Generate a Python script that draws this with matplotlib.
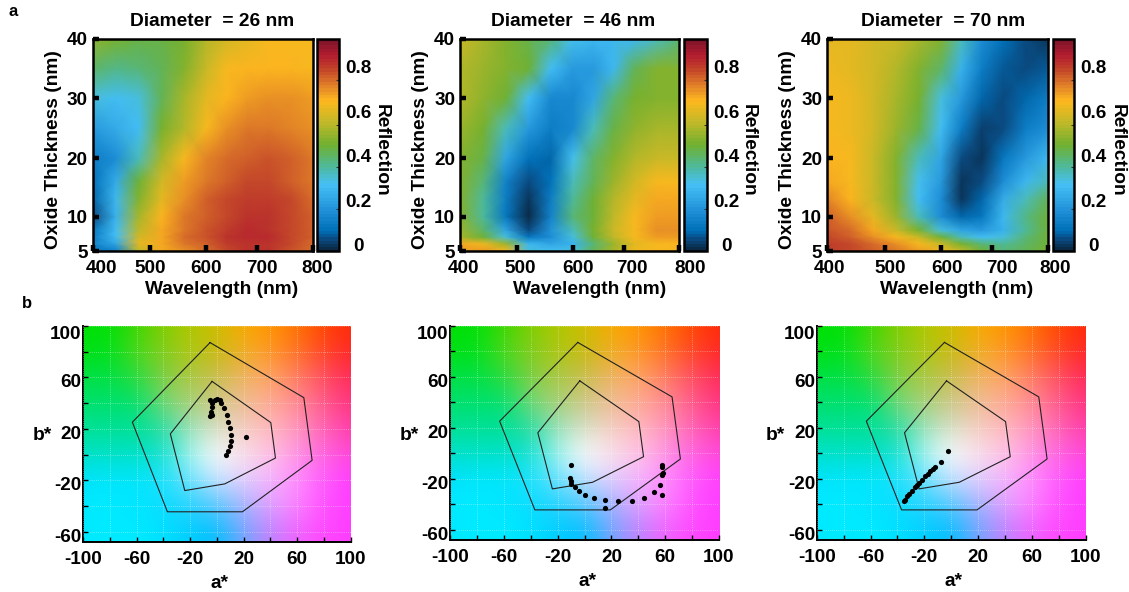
import numpy as np
import matplotlib
matplotlib.use("Agg")
import matplotlib.pyplot as plt
from matplotlib.colors import LinearSegmentedColormap
from matplotlib.transforms import ScaledTranslation

plt.rcParams['font.family'] = ['Liberation Sans', 'DejaVu Sans']
plt.rcParams['font.weight'] = 'bold'

W, H = 1129, 592

# ---------- data ----------
wavelengths = [400, 440, 480, 520, 560, 600, 640, 680, 720, 760, 800]
thickness = [5, 6, 7, 8, 10, 13, 16, 20, 25, 30, 35, 40]

refl_26 = [
    [.08, .12, .55, .66, .70, .74, .78, .81, .81, .77, .74],
    [.12, .20, .60, .67, .73, .76, .80, .82, .82, .78, .74],
    [.10, .27, .58, .67, .74, .77, .81, .83, .83, .79, .75],
    [.08, .27, .55, .66, .72, .77, .80, .83, .82, .79, .75],
    [.03, .24, .52, .65, .72, .76, .79, .81, .81, .79, .75],
    [.05, .25, .48, .60, .70, .75, .78, .80, .80, .78, .74],
    [.07, .22, .45, .58, .68, .73, .76, .78, .78, .76, .73],
    [.10, .15, .32, .52, .63, .71, .74, .76, .77, .75, .72],
    [.18, .22, .27, .46, .53, .63, .69, .72, .72, .71, .69],
    [.30, .27, .30, .42, .52, .60, .65, .68, .69, .69, .68],
    [.40, .37, .38, .42, .48, .56, .63, .65, .65, .65, .64],
    [.49, .46, .43, .43, .46, .53, .58, .61, .63, .63, .63],
]
refl_46 = [
    [.68, .68, .62, .30, .26, .30, .42, .52, .62, .64, .65],
    [.66, .62, .50, .25, .20, .24, .38, .50, .60, .64, .65],
    [.52, .45, .30, .08, .15, .30, .44, .55, .63, .68, .68],
    [.50, .40, .20, .03, .16, .33, .46, .57, .64, .69, .69],
    [.48, .35, .08, -.02, .12, .38, .45, .55, .63, .68, .68],
    [.47, .36, .10, -.01, .10, .36, .44, .53, .61, .66, .66],
    [.47, .38, .12, .02, .07, .33, .42, .50, .58, .63, .63],
    [.48, .43, .20, .07, .06, .28, .40, .48, .54, .57, .57],
    [.50, .46, .33, .17, .10, .13, .33, .43, .49, .52, .52],
    [.53, .49, .44, .27, .13, .13, .20, .38, .46, .48, .48],
    [.54, .50, .47, .44, .27, .17, .17, .25, .42, .47, .47],
    [.56, .52, .47, .43, .38, .28, .25, .25, .25, .32, .38],
]
refl_70 = [
    [.80, .79, .76, .72, .68, .62, .55, .45, .39, .42, .46],
    [.80, .78, .74, .70, .64, .56, .46, .38, .35, .40, .44],
    [.79, .76, .70, .63, .56, .44, .33, .27, .30, .38, .44],
    [.77, .74, .66, .56, .46, .30, .20, .17, .24, .36, .44],
    [.75, .69, .60, .50, .33, .15, .06, .08, .25, .37, .44],
    [.71, .65, .57, .47, .27, .15, -.01, .05, .22, .33, .42],
    [.67, .63, .57, .47, .28, .17, -.01, .02, .14, .25, .33],
    [.65, .63, .57, .48, .32, .20, .03, .00, .08, .17, .25],
    [.64, .62, .58, .50, .43, .26, .10, .01, .03, .10, .14],
    [.63, .62, .58, .52, .46, .30, .17, .05, .02, .05, .10],
    [.62, .61, .58, .54, .48, .40, .24, .10, .04, .02, .04],
    [.61, .60, .58, .56, .52, .47, .33, .14, .07, .02, .00],
]
titles = ["Diameter  = 26 nm", "Diameter  = 46 nm", "Diameter  = 70 nm"]

x_ticks = [400, 500, 600, 700, 800]
y_ticks = [5, 10, 20, 30, 40]
cbar_ticks = [0, .2, .4, .6, .8]
cbar_minor = [.16, .35, .54, .74]

outer_a = [-5, 65.1, 71.3, 19.2, -36.9, -63.1, -5]
outer_b = [87.1, 44.3, -4.5, -44.5, -44.5, 25.2, 87.1]
inner_a = [-3.5, 40.4, 43.9, 6, -23.9, -34.7, -3.5]
inner_b = [56.9, 24.9, -2.7, -22.8, -28, 16.1, 56.9]

pts26_a = [-5.2, -4.7, -3.7, -4.0, -3.7, -3.2, -1.5, 0.2, 2.2, 3.5, 5.5, 7.5, 8.7, 9.7, 10.5, 10.5, 9.7, 8.7, 7.2, 21.7]
pts26_b = [42.5, 30.1, 30.8, 33.4, 36.8, 39.9, 42.5, 43.2, 42.5, 40.4, 36.5, 30.8, 25.7, 20.5, 15.4, 10.2, 6.8, 2.5, -0.6, 13.8]
pts46_a = [-9.9, -10.6, -10.4, -9.7, -7.2, -4, 0.7, 7.4, 15.6, 15.1, 25.2, 35.1, 44.6, 51.7, 56.2, 57.9, 58.4, 57.7, 57.4, 57.4]
pts46_b = [-9.3, -19.5, -21.6, -24, -26.9, -30, -32.6, -35, -36.8, -43.1, -37.6, -37.3, -35, -30.5, -24.8, -33.1, -15.6, -17.4, -9.1, -10.9]
pts70_a = [-2.6, -7.6, -12.3, -13.8, -15.7, -17.5, -19.5, -21.4, -23.7, -25.6, -26.9, -29.4, -31.4, -33.1, -34.3, -34.8]
pts70_b = [1.4, -6.7, -10.9, -12.5, -14.3, -16.4, -18.2, -20.8, -23.5, -25.3, -26.6, -30, -31.8, -33.9, -36.5, -37.3]

lab_ticks = [-100, -60, -20, 20, 60, 100]
lab_minor = [-80, -40, 0, 40, 80]
lab_y_ticks = [-60, -20, 20, 60, 100]
lab_y_minor = [-40, 0, 40, 80]

# colour of the a*b* plane, rows b*=100..-60, columns a*=-100..100 (steps of 20)
lab_colours = [
    [(0,225,0),(0,225,10),(60,215,0),(130,205,0),(175,200,0),(205,190,0),(250,170,0),(255,150,0),(255,115,0),(255,70,0),(255,40,10)],
    [(0,225,20),(0,225,30),(80,215,30),(130,205,30),(175,200,20),(200,185,20),(240,175,40),(255,150,40),(255,115,40),(255,70,40),(255,40,40)],
    [(0,225,70),(0,225,70),(40,220,60),(130,205,70),(170,200,70),(200,190,80),(240,180,100),(255,165,100),(255,125,100),(255,80,100),(255,40,90)],
    [(0,225,110),(0,225,110),(0,225,110),(120,215,120),(170,210,120),(205,200,140),(240,190,150),(255,170,150),(255,140,150),(255,90,140),(255,50,130)],
    [(0,225,150),(0,225,150),(0,225,150),(40,220,160),(160,225,190),(215,225,200),(245,205,195),(255,185,190),(255,150,190),(255,100,180),(255,60,170)],
    [(0,225,200),(0,225,200),(0,225,200),(20,225,210),(170,245,240),(255,255,255),(250,225,235),(255,195,230),(255,150,230),(255,100,225),(255,70,220)],
    [(0,225,255),(0,230,255),(0,230,255),(30,225,255),(110,225,255),(200,225,255),(225,205,255),(245,180,255),(255,140,255),(255,90,255),(255,60,255)],
    [(0,235,255),(0,235,255),(0,230,255),(10,220,255),(40,210,255),(90,200,255),(170,180,255),(225,160,255),(255,130,255),(255,80,255),(255,60,255)],
    [(0,235,255),(0,235,255),(0,235,255),(0,225,255),(0,205,255),(0,190,255),(120,165,255),(190,130,255),(240,100,255),(255,70,255),(255,60,255)],
]

# ---------- style ----------
VMIN, VMAX = -.025, .927
cmap_nodes = [(-.025, '#0a2a48'), (.02, '#0a4a80'), (.06, '#0070b8'), (.15, '#2090d8'), (.27, '#45c0f5'),
              (.36, '#50b890'), (.45, '#70b030'), (.55, '#c0b828'), (.65, '#fdb81e'),
              (.72, '#e08028'), (.80, '#c0402a'), (.86, '#b21c30'), (.927, '#7a1428')]
cmap = LinearSegmentedColormap.from_list(
    'refl', [((v - VMIN) / (VMAX - VMIN), c) for v, c in cmap_nodes], N=64)

x_frac = [0, .262, .516, .747, 1]
y_frac = [0, .16, .436, .72, 1]
TICK_FS = 13.6
LABEL_FS = 13.8


def box(l, r, t, b):
    return [l / W, 1 - b / H, (r - l) / W, (b - t) / H]


fig = plt.figure(figsize=(W / 100, H / 100), dpi=100)


def shift(lab, dx, dy):
    lab.set_transform(lab.get_transform() + ScaledTranslation(dx / 100, -dy / 100, fig.dpi_scale_trans))


top_x = [(92.7, 313), (460, 679), (827, 1048)]
cb_x = [(317, 339), (684, 707), (1053, 1074)]
x_shifts = [[9, 0, 0, 5, 4], [3, 3, 5, 8, 11], [3, 5, 6, 10, 7]]
title_x = [.54, .516, .525]
xlabel_x = [.587, .594, .588]
for i, ((l, r), (cl, cr), data, title) in enumerate(zip(top_x, cb_x, [refl_26, refl_46, refl_70], titles)):
    ax = fig.add_axes(box(l, r, 38.7, 250.5))
    ax.set_xscale('function', functions=(lambda v: np.interp(v, x_ticks, x_frac),
                                         lambda f: np.interp(f, x_frac, x_ticks)))
    ax.set_yscale('function', functions=(lambda v: np.interp(v, y_ticks, y_frac),
                                         lambda f: np.interp(f, y_frac, y_ticks)))
    mesh = ax.pcolormesh(wavelengths, thickness, np.array(data), shading='gouraud',
                         cmap=cmap, vmin=VMIN, vmax=VMAX)
    ax.set_xlim(400, 800)
    ax.set_ylim(5, 40)
    ax.set_xticks(x_ticks)
    ax.set_yticks(y_ticks)
    ax.set_xticklabels([str(v) for v in x_ticks])
    ax.set_yticklabels([str(v) for v in y_ticks])
    ax.minorticks_off()
    ax.tick_params(direction='in', length=4.5, width=3.2, labelsize=TICK_FS)
    ax.tick_params(axis='x', pad=7)
    ax.tick_params(axis='y', pad=3.5)
    for lab, dx in zip(ax.get_xticklabels(), x_shifts[i]):
        shift(lab, dx, 0)
    shift(ax.get_yticklabels()[0], 0, 1)
    for s in ax.spines.values():
        s.set_linewidth(1.8)
    ax.set_xlabel("Wavelength (nm)", fontsize=LABEL_FS, fontweight='bold', labelpad=3, x=xlabel_x[i])
    ax.set_ylabel("Oxide Thickness (nm)", fontsize=LABEL_FS, fontweight='bold', va='center')
    ax.yaxis.set_label_coords(-39.5 / (r - l), .475)
    ax.set_title(title, fontsize=13.8, fontweight='bold', pad=9, x=title_x[i])

    cax = fig.add_axes(box(cl, cr, 38.7, 250.5))
    cb = fig.colorbar(mesh, cax=cax, ticks=cbar_ticks)
    cb.ax.set_yticklabels(['0', '0.2', '0.4', '0.6', '0.8'])
    cb.ax.set_yticks(cbar_minor, minor=True)
    cb.ax.tick_params(which='major', length=0, labelsize=TICK_FS, pad=14)
    cb.ax.tick_params(which='minor', direction='in', length=2, width=.8, color='#333333')
    for lab in cb.ax.get_yticklabels():
        lab.set_ha('center')
    cb.outline.set_linewidth(1.8)
    cb.set_label("Reflection", rotation=270, fontsize=LABEL_FS, fontweight='bold', va='center')
    cb.ax.yaxis.set_label_coords(64.5 / (cr - cl), .474)

bot_x = [(83, 350.5), (450, 719), (816.7, 1085.7)]
bot_yb = [542, 539.8, 539.8]
pts = [(pts26_a, pts26_b), (pts46_a, pts46_b), (pts70_a, pts70_b)]
img = np.array(lab_colours) / 255.0
for (l, r), yb, (pa, pb) in zip(bot_x, bot_yb, pts):
    ax = fig.add_axes(box(l, r, 326, yb))
    ax.imshow(img, extent=[-110, 110, -70, 110], aspect='auto', interpolation='bicubic',
              origin='upper', zorder=0)
    ax.set_xlim(-100, 100)
    ax.set_ylim(-68, 100)
    ax.set_xticks(lab_ticks)
    ax.set_yticks(lab_y_ticks)
    ax.set_xticklabels([str(v) for v in lab_ticks])
    ax.set_yticklabels([str(v) for v in lab_y_ticks])
    ax.set_xticks(lab_minor, minor=True)
    ax.set_yticks(lab_y_minor, minor=True)
    ax.tick_params(which='both', direction='in', length=3.5, width=1, labelsize=TICK_FS)
    ax.tick_params(axis='x', pad=6.5)
    ax.tick_params(axis='y', pad=1)
    ax.grid(which='both', color='white', lw=.5, ls=(0, (1, 2)), alpha=.65)
    ax.set_axisbelow(False)
    for side in ('top', 'right'):
        ax.spines[side].set_visible(False)
    for side in ('left', 'bottom'):
        ax.spines[side].set_linewidth(1.4)
    for lab, dy in zip(ax.get_yticklabels(), [3.5, 3.5, 3.5, 3.5, 6.5]):
        shift(lab, 0, dy)
    ax.plot(outer_a, outer_b, color='#222222', lw=.8, zorder=3)
    ax.plot(inner_a, inner_b, color='#222222', lw=.8, zorder=3)
    ax.scatter(pa, pb, s=14, color='black', linewidths=0, zorder=4)
    ax.set_xlabel("a*", fontsize=LABEL_FS, fontweight='bold', labelpad=5, x=.51)
    ax.set_ylabel("b*", fontsize=LABEL_FS, fontweight='bold', rotation=0, va='center', ha='center')
    ax.yaxis.set_label_coords(-41 / (r - l), (yb - 436) / (yb - 326))

fig.text(13 / W, 1 - 11 / H, "a", fontsize=12, fontweight='bold', ha='center', va='center')
fig.text(27 / W, 1 - 304 / H, "b", fontsize=12, fontweight='bold', ha='center', va='center')

fig.savefig("out.png", dpi=100)
